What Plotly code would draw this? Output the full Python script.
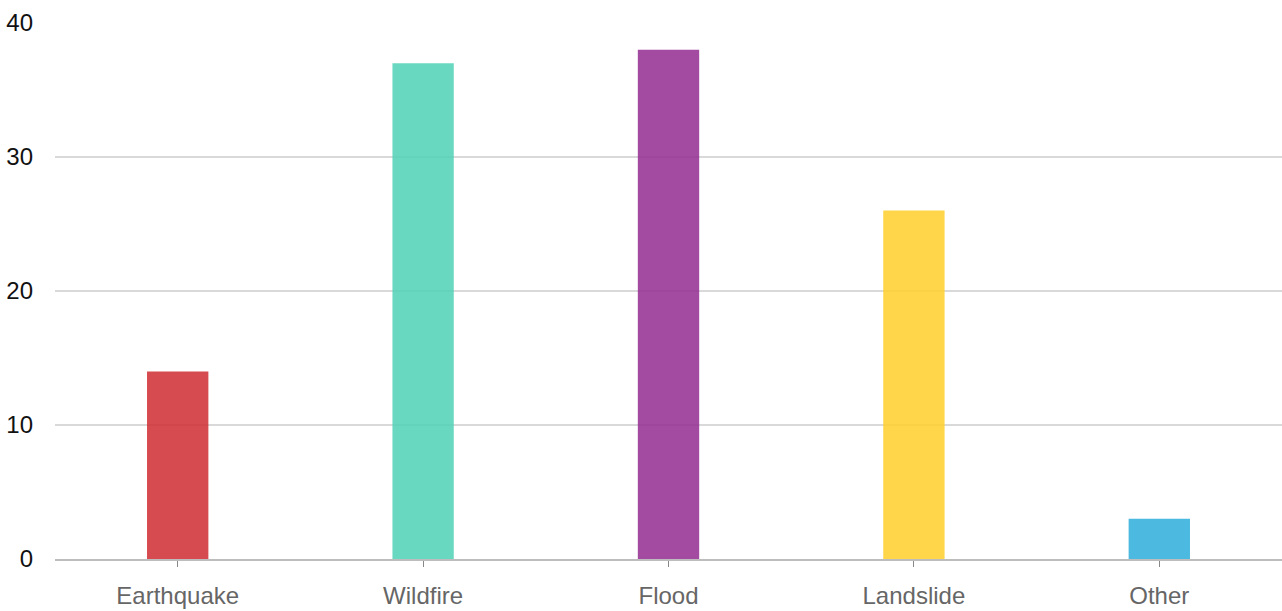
import plotly.graph_objects as go

categories = ["Earthquake", "Wildfire", "Flood", "Landslide", "Other"]
counts = [14, 37, 38, 26, 3]
bar_colors = ["#cf2b30", "#4fd1b5", "#922c8f", "#ffce2a", "#2cadda"]

fig = go.Figure(
    go.Bar(
        x=categories,
        y=counts,
        marker=dict(color=bar_colors, opacity=0.85, line=dict(width=0)),
        hoverinfo="x+y",
    )
)

fig.update_layout(
    width=1282,
    height=611,
    margin=dict(l=55, r=0, t=23, b=52),
    paper_bgcolor="white",
    plot_bgcolor="white",
    bargap=0.75,
    showlegend=False,
    font=dict(family="Liberation Sans, Arial, sans-serif"),
)

fig.update_xaxes(
    showgrid=False,
    showline=True,
    linecolor="#bdbdbd",
    linewidth=2,
    ticks="outside",
    ticklen=6,
    tickcolor="#888888",
    ticklabelstandoff=8,
    tickfont=dict(size=24, color="#666666"),
)

fig.update_yaxes(
    range=[0, 40],
    dtick=10,
    showgrid=True,
    gridcolor="#d9d9d9",
    gridwidth=1.5,
    zeroline=False,
    showline=False,
    ticks="",
    ticklabelstandoff=21,
    tickfont=dict(size=24, color="#111111"),
)

fig.write_html("out.html")
